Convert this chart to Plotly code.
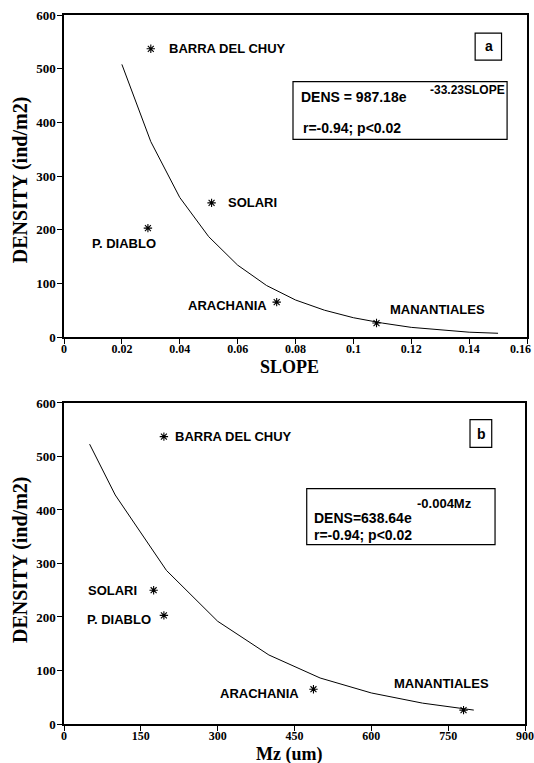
import plotly.graph_objects as go

# ---- data ----
sites = ["BARRA DEL CHUY", "SOLARI", "P. DIABLO", "ARACHANIA", "MANANTIALES"]
density = [537, 250, 203, 65, 26]
slope = [0.030, 0.051, 0.029, 0.0735, 0.108]
mz = [195, 175, 195, 487, 780]

slope_fit = [0.02, 0.03, 0.04, 0.05, 0.06, 0.07, 0.08, 0.09, 0.10, 0.11, 0.12, 0.13, 0.14, 0.15]
dens_fit_a = [508, 364, 260, 187, 134, 96, 69, 50, 36, 26, 18, 13, 9, 7]
mz_fit = [50, 100, 200, 300, 400, 500, 600, 700, 800]
dens_fit_b = [523, 428, 287, 192, 129, 86, 58, 39, 26]

y_ticks = [0, 100, 200, 300, 400, 500, 600]
slope_ticks = [0, 0.02, 0.04, 0.06, 0.08, 0.1, 0.12, 0.14, 0.16]
slope_tick_text = ["0", "0.02", "0.04", "0.06", "0.08", "0.1", "0.12", "0.14", "0.16"]
mz_ticks = [0, 150, 300, 450, 600, 750, 900]

# label placement (pixel offsets from marker)
lab_a = [("left", 16, 0), ("left", 14, 0), ("right", 10, -15), ("right", -8, -3), ("left", 11, 14)]
lab_b = [("left", 9, 0), ("right", -15, 0), ("right", -11, -4), ("right", -12, -4), ("center", -22, 27)]

SERIF = "Liberation Serif, Times New Roman, serif"
SANS = "Liberation Sans, Arial, sans-serif"

fig = go.Figure()

fig.add_trace(go.Scatter(x=slope_fit, y=dens_fit_a, mode="lines",
                         line=dict(color="black", width=1), xaxis="x", yaxis="y",
                         showlegend=False, hoverinfo="skip"))
fig.add_trace(go.Scatter(x=slope, y=density, mode="markers",
                         marker=dict(symbol="asterisk-open", size=7, color="black",
                                     line=dict(color="black", width=1.1)),
                         xaxis="x", yaxis="y", showlegend=False, text=sites))
fig.add_trace(go.Scatter(x=mz_fit, y=dens_fit_b, mode="lines",
                         line=dict(color="black", width=1), xaxis="x2", yaxis="y2",
                         showlegend=False, hoverinfo="skip"))
fig.add_trace(go.Scatter(x=mz, y=density, mode="markers",
                         marker=dict(symbol="asterisk-open", size=7, color="black",
                                     line=dict(color="black", width=1.1)),
                         xaxis="x2", yaxis="y2", showlegend=False, text=sites))

ann = []
lab_font = dict(family=SANS, size=13, color="black", weight="bold")
for i, s in enumerate(sites):
    a, dx, dy = lab_a[i]
    ann.append(dict(x=slope[i], y=density[i], xref="x", yref="y", text=s, showarrow=False,
                    xanchor=a, yanchor="middle", xshift=dx, yshift=dy, font=lab_font))
    a, dx, dy = lab_b[i]
    ann.append(dict(x=mz[i], y=density[i], xref="x2", yref="y2", text=s, showarrow=False,
                    xanchor=a, yanchor="middle", xshift=dx, yshift=dy, font=lab_font))

eq_font = dict(family=SANS, size=14, color="black", weight="bold")
ann += [
    dict(x=0.508, y=0.746, xref="x domain", yref="y domain", text="DENS = 987.18e",
         showarrow=False, xanchor="left", yanchor="middle", font=eq_font),
    dict(x=0.786, y=0.767, xref="x domain", yref="y domain", text="-33.23SLOPE",
         showarrow=False, xanchor="left", yanchor="middle",
         font=dict(family=SANS, size=12, color="black", weight="bold")),
    dict(x=0.512, y=0.648, xref="x domain", yref="y domain", text="r=-0.94; p<0.02",
         showarrow=False, xanchor="left", yanchor="middle", font=eq_font),
    dict(x=0.918, y=0.904, xref="x domain", yref="y domain", text="a",
         showarrow=False, xanchor="center", yanchor="middle", font=eq_font),
    dict(x=0.537, y=0.642, xref="x2 domain", yref="y2 domain", text="DENS=638.64e",
         showarrow=False, xanchor="left", yanchor="middle", font=eq_font),
    dict(x=0.761, y=0.688, xref="x2 domain", yref="y2 domain", text="-0.004Mz",
         showarrow=False, xanchor="left", yanchor="middle",
         font=dict(family=SANS, size=13, color="black", weight="bold")),
    dict(x=0.538, y=0.5875, xref="x2 domain", yref="y2 domain", text="r=-0.94; p<0.02",
         showarrow=False, xanchor="left", yanchor="middle", font=eq_font),
    dict(x=0.9046, y=0.904, xref="x2 domain", yref="y2 domain", text="b",
         showarrow=False, xanchor="center", yanchor="middle", font=eq_font),
]

title_font = dict(family=SERIF, size=18, color="black", weight="bold")
ytitle_font = dict(family=SERIF, size=20, color="black", weight="bold")
ann += [
    dict(x=-0.095, y=0.767, xref="paper", yref="paper", text="DENSITY (ind/m2)", textangle=-90,
         showarrow=False, xanchor="center", yanchor="middle", font=ytitle_font),
    dict(x=-0.095, y=0.2313, xref="paper", yref="paper", text="DENSITY (ind/m2)", textangle=-90,
         showarrow=False, xanchor="center", yanchor="middle", font=ytitle_font),
    dict(x=0.486, y=0.504, xref="paper", yref="paper", text="SLOPE",
         showarrow=False, xanchor="center", yanchor="middle", font=title_font),
    dict(x=0.485, y=-0.0427, xref="paper", yref="paper", text="Mz (um)",
         showarrow=False, xanchor="center", yanchor="middle", font=title_font),
]

xtick_font = dict(family=SERIF, size=12, color="black", weight="bold")
ytick_font = dict(family=SERIF, size=13, color="black", weight="bold")

# last tick labels sit at the page edge; plotly drops them, so draw them at the tick value
ann += [
    dict(x=slope_ticks[-1], y=0, xref="x", yref="y domain", text=slope_tick_text[-1],
         showarrow=False, xanchor="right", xshift=6, yanchor="middle", yshift=-12, font=xtick_font),
    dict(x=mz_ticks[-1], y=0, xref="x2", yref="y2 domain", text=str(mz_ticks[-1]),
         showarrow=False, xanchor="center", yanchor="middle", yshift=-12, font=xtick_font),
]

shapes = [
    dict(type="rect", xref="x domain", yref="y domain", x0=0.4946, x1=0.957, y0=0.614, y1=0.793,
         line=dict(color="black", width=1.2), fillcolor="rgba(0,0,0,0)"),
    dict(type="rect", xref="x domain", yref="y domain", x0=0.888, x1=0.945, y0=0.860, y1=0.944,
         line=dict(color="black", width=1.2), fillcolor="rgba(0,0,0,0)"),
    dict(type="rect", xref="x2 domain", yref="y2 domain", x0=0.5265, x1=0.935, y0=0.5586, y1=0.733,
         line=dict(color="black", width=1.2), fillcolor="rgba(0,0,0,0)"),
    dict(type="rect", xref="x2 domain", yref="y2 domain", x0=0.8807, x1=0.9278, y0=0.8617, y1=0.948,
         line=dict(color="black", width=1.2), fillcolor="rgba(0,0,0,0)"),
]

axis_common = dict(showgrid=False, zeroline=False, showline=True, linecolor="black", linewidth=1.5,
                   mirror=True, ticks="outside", ticklen=5, tickwidth=1.2, tickcolor="black",
                   automargin=False)

fig.update_layout(
    width=534, height=763, autosize=False,
    margin=dict(l=64, r=7, t=15, b=39, autoexpand=False),
    paper_bgcolor="white", plot_bgcolor="white",
    showlegend=False,
    xaxis=dict(domain=[0, 1], range=[0, 0.16], tickvals=slope_ticks, ticktext=slope_tick_text,
               anchor="y", ticklabelstandoff=-5, tickfont=xtick_font, **axis_common),
    yaxis=dict(domain=[0.5458, 1], range=[0, 600], tickvals=y_ticks, anchor="x",
               ticklabelstandoff=-1, tickfont=ytick_font, **axis_common),
    xaxis2=dict(domain=[0, 0.9957], range=[0, 900], tickvals=mz_ticks, anchor="y2",
                ticklabelstandoff=-5, tickfont=xtick_font, **axis_common),
    yaxis2=dict(domain=[0, 0.4528], range=[0, 600], tickvals=y_ticks, anchor="x2",
                ticklabelstandoff=-1, tickfont=ytick_font, **axis_common),
    annotations=ann,
    shapes=shapes,
)

fig.write_html("out.html", config={"displayModeBar": False},
               post_script="document.body.style.margin='0';document.body.style.overflow='hidden';")
